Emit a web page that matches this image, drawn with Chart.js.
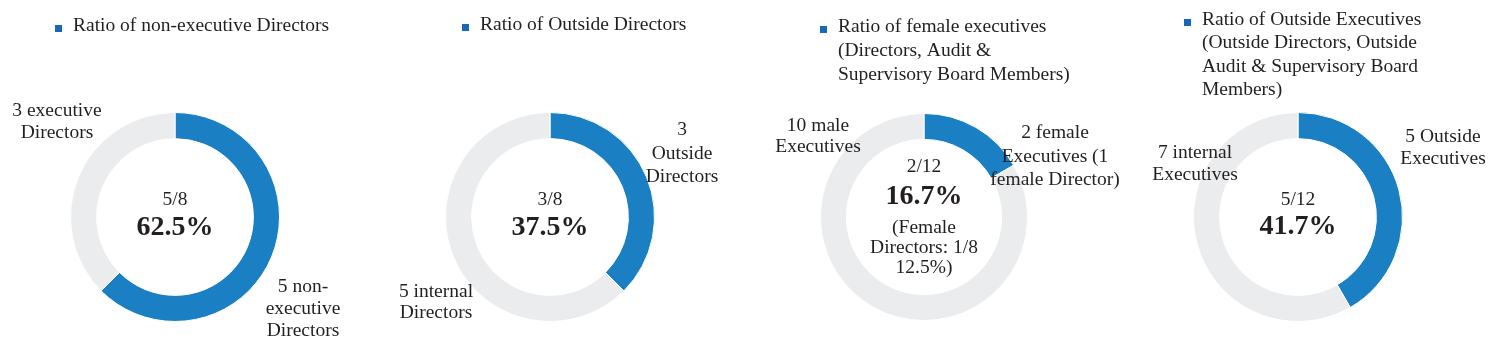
<!DOCTYPE html>
<html>
<head>
<meta charset="utf-8">
<script src="https://cdn.jsdelivr.net/npm/chart.js@4.4.1/dist/chart.umd.min.js"></script>
<style>
  body { margin: 0; background: #fff; width: 1500px; height: 354px; overflow: hidden; }
  .panel { position: absolute; top: 0; width: 375px; height: 354px; }
</style>
</head>
<body>
<div class="panel" style="left:0px"><canvas id="c0" width="375" height="354"></canvas></div>
<div class="panel" style="left:375px"><canvas id="c1" width="375" height="354"></canvas></div>
<div class="panel" style="left:750px"><canvas id="c2" width="375" height="354"></canvas></div>
<div class="panel" style="left:1125px"><canvas id="c3" width="375" height="354"></canvas></div>
<script>
// data
const blueCounts = [5, 3, 2, 5]
const greyCounts = [3, 5, 10, 7]
const legendTitles = [
  ['Ratio of non-executive Directors'],
  ['Ratio of Outside Directors'],
  ['Ratio of female executives', '(Directors, Audit &', 'Supervisory Board Members)'],
  ['Ratio of Outside Executives', '(Outside Directors, Outside', 'Audit & Supervisory Board', 'Members)']
]
const blueLabels = [
  ['5 non-', 'executive', 'Directors'],
  ['3', 'Outside', 'Directors'],
  ['2 female', 'Executives (1', 'female Director)'],
  ['5 Outside', 'Executives']
]
const greyLabels = [
  ['3 executive', 'Directors'],
  ['5 internal', 'Directors'],
  ['10 male', 'Executives'],
  ['7 internal', 'Executives']
]
const centerFractions = ['5/8', '3/8', '2/12', '5/12']
const centerPercents = ['62.5%', '37.5%', '16.7%', '41.7%']
const centerNotes = [[], [], ['(Female', 'Directors: 1/8', '12.5%)'], []]

// layout (panel-local pixels)
const layouts = [
  { pad: { left: 70, top: 112, right: 95, bottom: 32 }, legend: { x: 73, y: 26, lh: 24 },
    blue: { x: 303, y: 287, lh: 22 }, grey: { x: 57, y: 111, lh: 22 }, center: { y: 200, py: 228 } },
  { pad: { left: 70, top: 112, right: 95, bottom: 32 }, legend: { x: 105, y: 25, lh: 24 },
    blue: { x: 307, y: 130, lh: 23.5 }, grey: { x: 61, y: 292, lh: 21 }, center: { y: 200, py: 228 } },
  { pad: { left: 70, top: 112, right: 97, bottom: 32 }, legend: { x: 88, y: 27, lh: 24 },
    blue: { x: 305, y: 133, lh: 23.5 }, grey: { x: 68, y: 126, lh: 21 }, center: { y: 167, py: 197, ny: 228, nlh: 20 } },
  { pad: { left: 68, top: 112, right: 97, bottom: 32 }, legend: { x: 77, y: 20, lh: 23.3 },
    blue: { x: 318, y: 137, lh: 22 }, grey: { x: 70, y: 153, lh: 22 }, center: { y: 200, py: 227 } }
]

const BLUE = '#1b7fc4'
const GREY = '#ebeced'
const TEXT = '#231f20'
const SERIF = '"Liberation Serif", "Times New Roman", serif'

const textLayer = {
  id: 'textLayer',
  afterDraw(chart, args, opts) {
    const ctx = chart.ctx
    const i = opts.index
    const L = layouts[i]
    const arc = chart.getDatasetMeta(0).data[0]
    const cx = arc.x
    ctx.save()
    ctx.fillStyle = TEXT
    ctx.textBaseline = 'middle'

    // legend
    ctx.font = '19.5px ' + SERIF
    ctx.textAlign = 'left'
    legendTitles[i].forEach((t, k) => ctx.fillText(t, L.legend.x, L.legend.y + k * L.legend.lh))
    ctx.fillStyle = '#1569b6'
    ctx.fillRect(L.legend.x - 18, L.legend.y - 1, 7, 7)

    // slice labels
    ctx.fillStyle = TEXT
    ctx.font = '19.5px ' + SERIF
    ctx.textAlign = 'center'
    blueLabels[i].forEach((t, k) => ctx.fillText(t, L.blue.x, L.blue.y + k * L.blue.lh))
    greyLabels[i].forEach((t, k) => ctx.fillText(t, L.grey.x, L.grey.y + k * L.grey.lh))

    // center
    ctx.font = '19.5px ' + SERIF
    ctx.fillText(centerFractions[i], cx, L.center.y)
    ctx.font = 'bold 28px ' + SERIF
    ctx.fillText(centerPercents[i], cx, L.center.py)
    ctx.font = '19.5px ' + SERIF
    centerNotes[i].forEach((t, k) => ctx.fillText(t, cx, L.center.ny + k * L.center.nlh))
    ctx.restore()
  }
}

for (let i = 0; i < 4; i++) {
  new Chart(document.getElementById('c' + i), {
    type: 'doughnut',
    data: {
      labels: ['blue', 'grey'],
      datasets: [{
        data: [blueCounts[i], greyCounts[i]],
        backgroundColor: [BLUE, GREY],
        borderColor: '#ffffff',
        borderWidth: 1
      }]
    },
    options: {
      responsive: false,
      animation: false,
      cutout: '75%',
      layout: { padding: layouts[i].pad },
      plugins: {
        legend: { display: false },
        tooltip: { enabled: false },
        textLayer: { index: i }
      }
    },
    plugins: [textLayer]
  })
}
</script>
</body>
</html>
